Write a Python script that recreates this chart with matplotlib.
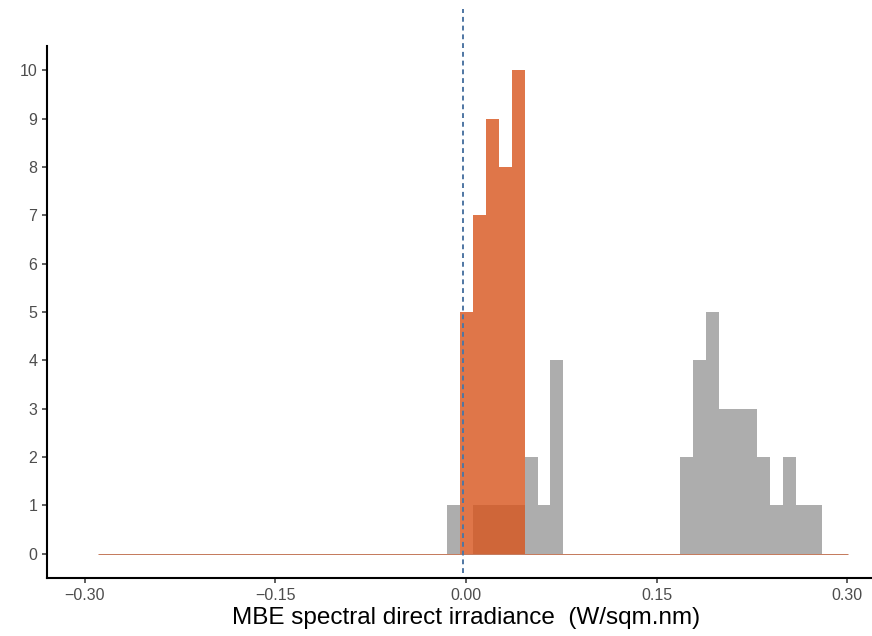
import matplotlib
matplotlib.use("Agg")
import matplotlib.pyplot as plt
import numpy as np
from matplotlib.ticker import FixedLocator, FuncFormatter

plt.rcParams['font.family'] = ['Liberation Sans', 'DejaVu Sans']

# histogram bins (shared by both groups)
bin_start = -0.2895
bin_width = 0.01017
n_bins = 58

# counts per bin, left to right
counts_grey = [0, 0, 0, 0, 0, 0, 0, 0, 0, 0,
               0, 0, 0, 0, 0, 0, 0, 0, 0, 0,
               0, 0, 0, 0, 0, 0, 0, 1, 0, 1,
               1, 1, 1, 2, 1, 4, 0, 0, 0, 0,
               0, 0, 0, 0, 0, 2, 4, 5, 3, 3,
               3, 2, 1, 2, 1, 1, 0, 0]
counts_orange = [0, 0, 0, 0, 0, 0, 0, 0, 0, 0,
                 0, 0, 0, 0, 0, 0, 0, 0, 0, 0,
                 0, 0, 0, 0, 0, 0, 0, 0, 5, 7,
                 9, 8, 10, 0, 0, 0, 0, 0, 0, 0,
                 0, 0, 0, 0, 0, 0, 0, 0, 0, 0,
                 0, 0, 0, 0, 0, 0, 0, 0]

ref_line = -0.002
x_ticks = [-0.30, -0.15, 0.00, 0.15, 0.30]
y_ticks = list(range(0, 11))
x_title = "MBE spectral direct irradiance  (W/sqm.nm)"

edges = bin_start + bin_width * np.arange(n_bins + 1)

fig = plt.figure(figsize=(8.72, 6.36), dpi=100)
# axes runs a bit past the right border on purpose
ax = fig.add_axes([46.5 / 872, 58 / 636, 839 / 872, 532 / 636])

ax.bar(edges[:-1], counts_grey, width=bin_width, align='edge',
       color='#adadad', linewidth=0, zorder=2)
ax.hlines(0, edges[0], edges[-1], color='#c4785a', linewidth=0.7, zorder=3)
ax.bar(edges[:-1], counts_orange, width=bin_width, align='edge',
       color='#d8541c', alpha=0.8, linewidth=0, zorder=4)

# reference line, runs above the panel top
ax.axvline(ref_line, ymin=0.0094, ymax=1.0695, clip_on=False,
           color='#4f76a3', linewidth=1.4, linestyle=(0, (2.5, 2.0)), zorder=5)

ax.set_xlim(-0.33, 0.33)
ax.set_ylim(-0.5, 10.5)

ax.xaxis.set_major_locator(FixedLocator(x_ticks))
ax.yaxis.set_major_locator(FixedLocator(y_ticks))
ax.xaxis.set_major_formatter(FuncFormatter(
    lambda v, p: ("%.2f" % v).replace('-', '\u2212') if abs(v) > 1e-9 else "0.00"))

for side in ['top', 'right']:
    ax.spines[side].set_visible(False)
for side in ['left', 'bottom']:
    ax.spines[side].set_color('black')
    ax.spines[side].set_linewidth(1.5)

ax.tick_params(axis='both', length=3.6, width=1.1, color='#333333',
               labelcolor='#4d4d4d', labelsize=11.5)
ax.tick_params(axis='x', pad=3.4)
ax.tick_params(axis='y', pad=3.0)

ax.set_xlabel(x_title, fontsize=17.5, color='black', labelpad=3)

fig.savefig('out.png', dpi=100)
